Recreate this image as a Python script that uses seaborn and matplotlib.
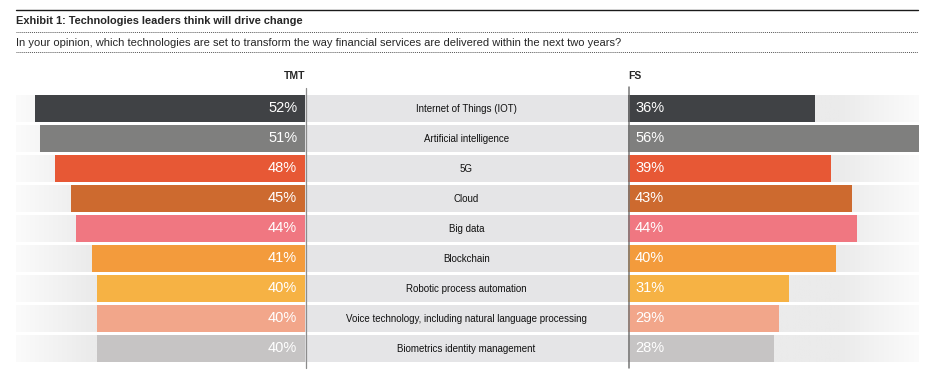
import numpy as np
import matplotlib
matplotlib.use('Agg')
import matplotlib.pyplot as plt
import seaborn as sns
from matplotlib.colors import to_rgb
from matplotlib.lines import Line2D

technologies = [
    'Internet of Things (IOT)',
    'Artificial intelligence',
    '5G',
    'Cloud',
    'Big data',
    'Blockchain',
    'Robotic process automation',
    'Voice technology, including natural language processing',
    'Biometrics identity management',
]
tmt = [52, 51, 48, 45, 44, 41, 40, 40, 40]
fs = [36, 56, 39, 43, 44, 40, 31, 29, 28]
bar_colors = ['#404245', '#7f7f7e', '#e75835', '#cd6a2f', '#f07781',
              '#f39b3c', '#f6b244', '#f2a68a', '#c6c4c4']

title = 'Exhibit 1: Technologies leaders think will drive change'
subtitle = ('In your opinion, which technologies are set to transform the way '
            'financial services are delivered within the next two years?')

sns.set_theme(style='white')
plt.rcParams['font.family'] = ['Liberation Sans', 'DejaVu Sans']

W, H = 944, 370
fig = plt.figure(figsize=(W / 100, H / 100), dpi=100)


def box(x0, x1, y0, y1):
    # pixel box (top-left origin) -> figure fraction rect
    return [x0 / W, 1 - y1 / H, (x1 - x0) / W, (y1 - y0) / H]


PX = 5.2  # pixels per percentage point
top, bot = 93.5, 363.5
n = len(technologies)

ax_l = fig.add_axes(box(16, 305, top, bot))
ax_c = fig.add_axes(box(305, 628, top, bot))
ax_r = fig.add_axes(box(628, 919, top, bot))

band_light = np.array(to_rgb('#fbfbfb'))
band_gray = np.array(to_rgb('#ebebeb'))


def gradient(t0, t1, reverse=False):
    t = np.linspace(0, 1, 300)
    w = np.clip((t - t0) / (t1 - t0), 0, 1)
    if reverse:
        w = 1 - w
    img = band_light[None, :] * (1 - w[:, None]) + band_gray[None, :] * w[:, None]
    return img[None, :, :]


# left side (TMT)
xl = (305 - 16) / PX
grad_l = gradient(0, 74 / 289)
for i in range(n):
    ax_l.imshow(grad_l, extent=(xl, 0, i + 0.45, i - 0.45), aspect='auto', zorder=0)
sns.barplot(x=tmt, y=technologies, hue=technologies, palette=bar_colors,
            width=0.9, saturation=1, legend=False, ax=ax_l, zorder=2,
            linewidth=0, edgecolor='none')
ax_l.set_xlim(xl, 0)
ax_l.set_ylim(n - 0.5, -0.5)
for i, v in enumerate(tmt):
    ax_l.text(1.5, i, f'{v}%', ha='right', va='center', color='white',
              fontsize=10.5, zorder=3)

# right side (FS)
xr = (919 - 628) / PX
grad_r = gradient((840 - 628) / 291, 1.0, reverse=True)
for i in range(n):
    ax_r.imshow(grad_r, extent=(0, xr, i + 0.45, i - 0.45), aspect='auto', zorder=0)
sns.barplot(x=fs, y=technologies, hue=technologies, palette=bar_colors,
            width=0.9, saturation=1, legend=False, ax=ax_r, zorder=2,
            linewidth=0, edgecolor='none')
ax_r.set_xlim(0, xr)
ax_r.set_ylim(n - 0.5, -0.5)
for i, v in enumerate(fs):
    ax_r.text(1.35, i, f'{v}%', ha='left', va='center', color='white',
              fontsize=10.5, zorder=3)

# centre labels
ax_c.barh(range(n), [1] * n, height=0.9, color='#e5e5e7', linewidth=0)
ax_c.set_xlim(0, 1)
ax_c.set_ylim(n - 0.5, -0.5)
for i, name in enumerate(technologies):
    ax_c.text(0.5, i, name, ha='center', va='center', fontsize=7, color='#111111')

for ax in (ax_l, ax_c, ax_r):
    ax.axis('off')

# axis lines
fig.add_artist(Line2D([305.5 / W] * 2, [1 - 88 / H, 1 - 368 / H], color='#8c8c8c', lw=0.9))
fig.add_artist(Line2D([628.5 / W] * 2, [1 - 87 / H, 1 - 368 / H], color='#777777', lw=1.1))
fig.text(305 / W, 1 - 76 / H, 'TMT', ha='right', va='center', fontsize=7.5, fontweight='bold')
fig.text(628 / W, 1 - 76 / H, 'FS', ha='left', va='center', fontsize=7.5, fontweight='bold')

# header
fig.add_artist(Line2D([16 / W, 918 / W], [1 - 10 / H] * 2, color='#1a1a1a', lw=1.0))
fig.add_artist(Line2D([16 / W, 918 / W], [1 - 32 / H] * 2, color='#555555', lw=0.7, ls=(0, (1, 1))))
fig.add_artist(Line2D([16 / W, 918 / W], [1 - 52 / H] * 2, color='#555555', lw=0.7, ls=(0, (1, 1))))
fig.text(16 / W, 1 - 21.5 / H, title, ha='left', va='center', fontsize=7.9, fontweight='bold')
fig.text(16 / W, 1 - 42.5 / H, subtitle, ha='left', va='center', fontsize=8.0)

fig.savefig('out.png', dpi=100)
